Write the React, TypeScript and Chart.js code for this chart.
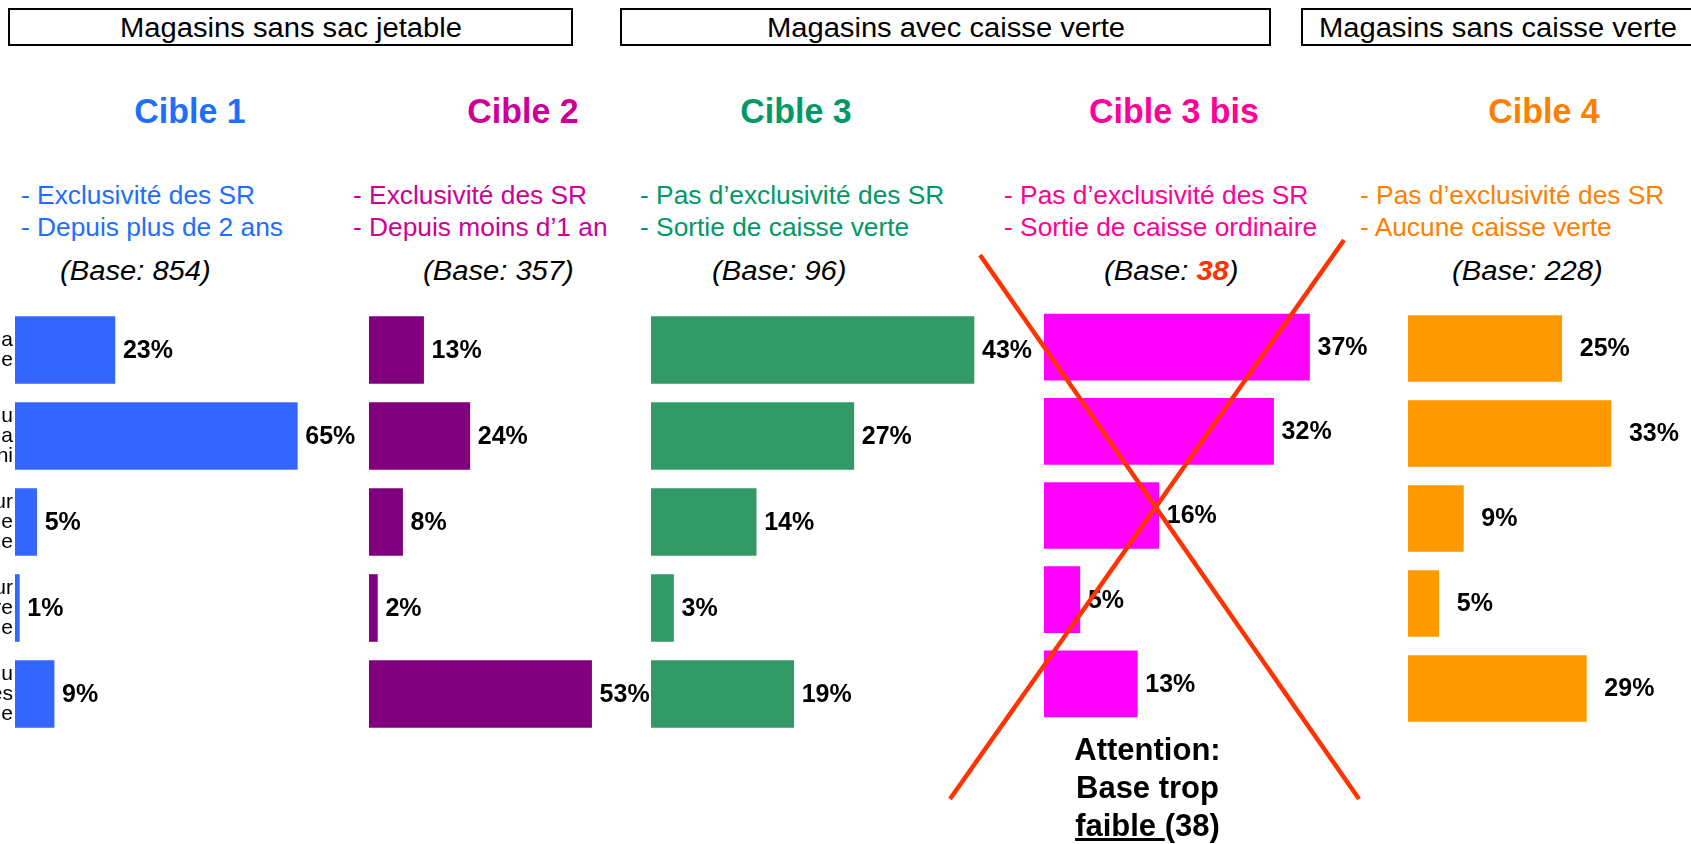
import React, { useEffect, useRef } from "react";
import { Chart, registerables } from "chart.js";

Chart.register(...registerables);

// ---------- DATA ----------
// visible ends of the (cut-off) category labels on the far left
const categories: string[][] = [
  ["a", "e"],
  ["u", "a", "ni"],
  ["ur", "e", "e"],
  ["ur", "re", "e"],
  ["u", "es", "e"],
];
const cible1Values = [23, 65, 5, 1, 9];
const cible2Values = [13, 24, 8, 2, 53];
const cible3Values = [43, 27, 14, 3, 19];
const cible3bisValues = [37, 32, 16, 5, 13];
const cible4Values = [25, 33, 9, 5, 29];

const boxTitles = ["Magasins sans sac jetable", "Magasins avec caisse verte", "Magasins sans caisse verte"];
const cibleNames = ["Cible 1", "Cible 2", "Cible 3", "Cible 3 bis", "Cible 4"];
const cibleLine1 = [
  "- Exclusivité des SR",
  "- Exclusivité des SR",
  "- Pas d’exclusivité des SR",
  "- Pas d’exclusivité des SR",
  "- Pas d’exclusivité des SR",
];
const cibleLine2 = [
  "- Depuis plus de 2 ans",
  "- Depuis moins d’1 an",
  "- Sortie de caisse verte",
  "- Sortie de caisse ordinaire",
  "- Aucune caisse verte",
];
const baseSizes = [854, 357, 96, 38, 228];
const lowBaseThreshold = 50;
const warningLines = ["Attention:", "Base trop"];
const warningWord = "faible ";
const warningTail = "(38)";

const seriesValues = [cible1Values, cible2Values, cible3Values, cible3bisValues, cible4Values];

// ---------- LAYOUT / STYLE ----------
const FONT = '"Liberation Sans", Arial, Helvetica, sans-serif';
const PANELS = [
  { left: 15, top: 306.5, pitch: 86, barH: 67, xMax: 70, scale: 4.34, gap: 8, barColor: "#3366FF", textColor: "#1E6EFF", titleX: 189.5, subX: 21, baseX: 60 },
  { left: 369, top: 306.5, pitch: 86, barH: 67, xMax: 60, scale: 4.2, gap: 8, barColor: "#800080", textColor: "#CC0099", titleX: 523, subX: 353, baseX: 423 },
  { left: 651, top: 306.5, pitch: 86, barH: 67, xMax: 45, scale: 7.52, gap: 8, barColor: "#339966", textColor: "#009966", titleX: 795.5, subX: 640, baseX: 712 },
  { left: 1044, top: 304.9, pitch: 84.25, barH: 66, xMax: 40, scale: 7.17, gap: 8, barColor: "#FF00FF", textColor: "#FF0099", titleX: 1174, subX: 1004, baseX: 1104 },
  { left: 1408, top: 305.5, pitch: 85, barH: 66, xMax: 40, scale: 6.16, gap: 18, barColor: "#FF9900", textColor: "#FF8000", titleX: 1544, subX: 1360, baseX: 1452 },
];
const BOXES = [
  { left: 8, width: 565 },
  { left: 620, width: 651 },
  { left: 1301, width: 393 },
];
const RED = "#FF3300";

Chart.defaults.font.family = FONT;

type PanelProps = {
  values: number[];
  idx: number;
};

function BarPanel({ values, idx }: PanelProps) {
  const ref = useRef<HTMLCanvasElement>(null);
  const p = PANELS[idx];
  const showCats = idx === 0;
  const PAD = 40;
  const ROOM = 80;
  const axisW = showCats ? p.left : 0;
  const canvasLeft = showCats ? 0 : p.left;
  const areaW = p.xMax * p.scale;
  const width = Math.round(axisW + areaW + ROOM);
  const height = Math.round(p.pitch * values.length + 2 * PAD);

  useEffect(() => {
    if (!ref.current) return;
    const valuePlugin = {
      id: "valueLabels" + idx,
      afterDatasetsDraw(chart: any) {
        const ctx = chart.ctx;
        const meta = chart.getDatasetMeta(0);
        ctx.save();
        ctx.font = `bold 25px ${FONT}`;
        ctx.fillStyle = "#000";
        ctx.textBaseline = "middle";
        ctx.textAlign = "left";
        meta.data.forEach((bar: any, i: number) => {
          ctx.fillText(values[i] + "%", bar.x + p.gap, bar.y + 1);
        });
        ctx.restore();
      },
    };
    const chart = new Chart(ref.current, {
      type: "bar",
      data: {
        labels: categories,
        datasets: [
          {
            data: values,
            backgroundColor: p.barColor,
            borderWidth: 0,
            barThickness: p.barH,
          },
        ],
      },
      options: {
        indexAxis: "y",
        responsive: false,
        maintainAspectRatio: false,
        animation: false,
        layout: { padding: { top: PAD, bottom: PAD, left: 0, right: ROOM } },
        plugins: { legend: { display: false }, tooltip: { enabled: false } },
        scales: {
          x: { display: false, min: 0, max: p.xMax },
          y: {
            display: showCats,
            grid: { display: false, drawTicks: false },
            border: { display: false },
            ticks: {
              color: "#000",
              padding: 2,
              font: { size: 21, lineHeight: 0.95, family: FONT },
            },
            afterFit: (s: any) => {
              s.width = axisW;
            },
          },
        },
      },
      plugins: [valuePlugin],
    } as any);
    return () => chart.destroy();
  }, []);

  return (
    <canvas
      ref={ref}
      width={width}
      height={height}
      style={{ position: "absolute", left: canvasLeft, top: p.top - PAD, width, height }}
    />
  );
}

type TxtProps = {
  x: number;
  base: number;
  size: number;
  lh?: number;
  color?: string;
  bold?: boolean;
  italic?: boolean;
  sx?: number;
  center?: boolean;
  children: React.ReactNode;
};

function Txt({ x, base, size, lh, color = "#000", bold, italic, sx = 1, center, children }: TxtProps) {
  const L = lh ?? size;
  const top = base - (L / 2 + 0.3465 * size);
  return (
    <div
      style={{
        position: "absolute",
        left: x,
        top,
        fontFamily: FONT,
        fontSize: size,
        lineHeight: L + "px",
        color,
        fontWeight: bold ? "bold" : "normal",
        fontStyle: italic ? "italic" : "normal",
        whiteSpace: "pre",
        textAlign: center ? "center" : "left",
        transform: center ? `translateX(-50%) scaleX(${sx})` : `scaleX(${sx})`,
        transformOrigin: center ? "center" : "left",
      }}
    >
      {children}
    </div>
  );
}

export default function App() {
  return (
    <div
      style={{
        position: "absolute",
        left: 0,
        top: 0,
        width: 1691,
        height: 844,
        overflow: "hidden",
        background: "#fff",
      }}
    >
      {/* header boxes */}
      {BOXES.map((b, i) => (
        <div
          key={"box" + i}
          style={{
            position: "absolute",
            left: b.left,
            top: 8,
            width: b.width,
            height: 38,
            border: "2px solid #000",
            boxSizing: "border-box",
          }}
        />
      ))}
      {BOXES.map((b, i) => (
        <Txt key={"bt" + i} x={b.left + b.width / 2} base={38} size={27} sx={1.08} center>
          {boxTitles[i]}
        </Txt>
      ))}

      {/* titles, descriptions, bases */}
      {PANELS.map((p, i) => (
        <React.Fragment key={"t" + i}>
          <Txt x={p.titleX} base={123} size={35} bold sx={0.97} color={p.textColor} center>
            {cibleNames[i]}
          </Txt>
          <Txt x={p.subX} base={204} size={25} lh={32} sx={1.053} color={p.textColor}>
            {cibleLine1[i] + "\n" + cibleLine2[i]}
          </Txt>
          <Txt x={p.baseX} base={281} size={27} italic sx={1.08}>
            {"(Base: "}
            {baseSizes[i] < lowBaseThreshold ? (
              <span style={{ fontWeight: "bold", color: RED }}>{baseSizes[i]}</span>
            ) : (
              String(baseSizes[i])
            )}
            {")"}
          </Txt>
        </React.Fragment>
      ))}

      {/* bar charts */}
      {seriesValues.map((v, i) => (
        <BarPanel key={"c" + i} values={v} idx={i} />
      ))}

      {/* warning */}
      <Txt x={1147.5} base={761} size={31} lh={38} bold center>
        {warningLines.join("\n") + "\n"}
        <span style={{ textDecoration: "underline" }}>{warningWord}</span>
        {warningTail}
      </Txt>

      {/* red cross over Cible 3 bis */}
      <svg
        width={1691}
        height={844}
        style={{ position: "absolute", left: 0, top: 0, pointerEvents: "none" }}
      >
        <line x1={980} y1={255} x2={1359} y2={799} stroke={RED} strokeWidth={4.5} />
        <line x1={1344} y1={240} x2={950} y2={799} stroke={RED} strokeWidth={4.5} />
      </svg>
    </div>
  );
}
